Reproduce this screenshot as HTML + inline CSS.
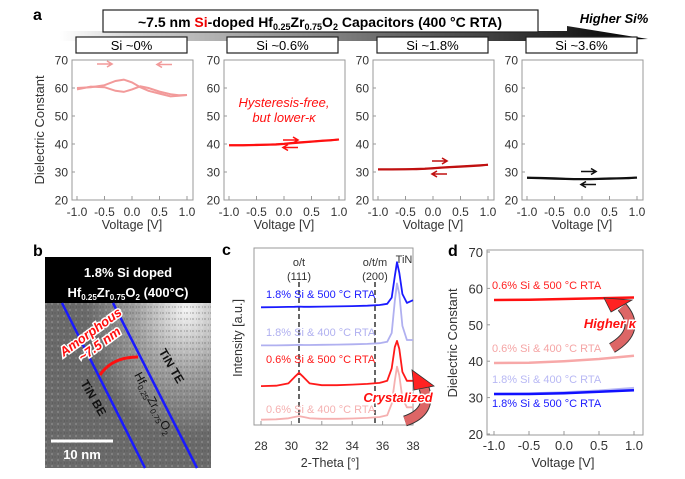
<!DOCTYPE html>
<html><head><meta charset="utf-8"><style>
html,body{margin:0;padding:0;background:#fff;}
svg{display:block;font-family:"Liberation Sans",Arial,sans-serif;}
</style></head><body>
<svg id="fig" width="685" height="479" viewBox="0 0 685 479" xmlns="http://www.w3.org/2000/svg">
<defs>
<linearGradient id="band" x1="0" x2="1" y1="0" y2="0"><stop offset="0" stop-color="#fff"/><stop offset="0.15" stop-color="#ccc"/><stop offset="1" stop-color="#000"/></linearGradient>
<linearGradient id="arrg" x1="0" x2="0" y1="1" y2="0" gradientUnits="objectBoundingBox"><stop offset="0" stop-color="#c88"/><stop offset="1" stop-color="#f00"/></linearGradient>
<radialGradient id="tem" cx="0.85" cy="0.25" r="0.6"><stop offset="0" stop-color="#f4f4f4"/><stop offset="0.5" stop-color="#a0a0a0"/><stop offset="1" stop-color="#6a6a6a"/></radialGradient>
<pattern id="noise" width="6" height="6" patternUnits="userSpaceOnUse"><rect width="6" height="6" fill="none"/><rect x="0" y="0" width="2" height="2" fill="#555" opacity="0.25"/><rect x="3" y="3" width="2" height="2" fill="#fff" opacity="0.15"/><rect x="4" y="0" width="1" height="2" fill="#333" opacity="0.2"/></pattern>
</defs>

<text x="33" y="20" font-size="16" font-weight="bold">a</text>
<polygon points="60,31 567,31 567,26 648,39 567,41 60,41" fill="url(#band)"/>
<text x="614" y="23" font-size="13" font-weight="bold" font-style="italic" text-anchor="middle">Higher Si%</text>
<rect x="103" y="10" width="435" height="22" fill="#fff" stroke="#222" stroke-width="1.2"/>
<text x="320" y="27" font-size="14" font-weight="bold" text-anchor="middle">~7.5 nm <tspan fill="#e00">Si</tspan>-doped Hf<tspan font-size="9" dy="3">0.25</tspan><tspan dy="-3">Zr</tspan><tspan font-size="9" dy="3">0.75</tspan><tspan dy="-3">O</tspan><tspan font-size="9" dy="3">2</tspan><tspan dy="-3">  Capacitors (400 °C RTA)</tspan></text>

<g id="pa"></g>
<g id="pb"></g>
<g id="pc"></g>
<g id="pd"></g>
</svg>
<script>
const NS='http://www.w3.org/2000/svg';
// ---- Panel a data ----
const aTitles=['Si ~0%','Si ~0.6%','Si ~1.8%','Si ~3.6%'];
const aColors=['#f29a9a','#ff1010','#c01010','#111111'];
const aYTicks=[20,30,40,50,60,70];
const aXTicks=[-1.0,-0.5,0.0,0.5,1.0];
const aFwdV=[-1,-0.75,-0.5,-0.3,-0.15,0,0.15,0.3,0.5,0.7,0.85,1];
const a0Fwd=[60,60.3,61,62.5,63,62,60.3,59,58,57,57.2,57.5];
const a0Bwd=[59.5,60.5,60.3,59,58.6,59.5,60.6,60,58.7,57.8,57.4,57.5];
const a1Fwd=[39.6,39.6,39.7,39.8,39.9,40.1,40.4,40.6,40.9,41.2,41.4,41.6];
const a1Bwd=[39.5,39.5,39.6,39.7,39.8,40.0,40.3,40.5,40.8,41.1,41.3,41.6];
const a2Fwd=[31,31,31,31.1,31.2,31.4,31.6,31.8,32,32.2,32.4,32.6];
const a2Bwd=[30.9,30.9,31,31,31.1,31.3,31.5,31.7,31.9,32.1,32.3,32.6];
const a3Fwd=[28,27.9,27.8,27.6,27.5,27.5,27.5,27.6,27.7,27.8,27.9,28];
const a3Bwd=[27.9,27.8,27.6,27.5,27.4,27.4,27.4,27.5,27.6,27.7,27.8,28];
const aFwd=[a0Fwd,a1Fwd,a2Fwd,a3Fwd];
const aBwd=[a0Bwd,a1Bwd,a2Bwd,a3Bwd];
// ---- Panel c data ----
const cTheta=[28,29,29.8,30.2,30.5,30.8,31.2,32,33,34,35,35.8,36.3,36.6,36.8,36.95,37.1,37.3,37.6,38];
const cBlue=[66.5,66.6,66.7,66.8,66.9,66.8,66.8,66.9,67,67.2,67.4,67.8,68.5,72,84,92,86,74,69,70.5];
const cLBlue=[45,45,45.1,45.2,45.3,45.2,45.2,45.3,45.4,45.6,45.8,46.2,47,52,70,80,74,56,48,48];
const cRed=[22,22.2,23.5,27,29.5,27,23.5,22.5,22.5,22.8,23.2,23.8,25,32,44,47.5,43,30,25,25];
const cPink=[3,3.2,3.8,4.5,5,4.5,3.8,3.5,3.5,3.7,4,4.5,5.5,12,25,33,28,15,10,10];
const cSeries=[cBlue,cLBlue,cRed,cPink];
const cColors=['#1a1aff','#b0b0f0','#ff1a1a','#f5b0b0'];
const cLabels=['1.8% Si & 500 °C RTA','1.8% Si & 400 °C RTA','0.6% Si & 500 °C RTA','0.6% Si & 400 °C RTA'];
const cLabelY=[298,336,363,413];
const cXTicks=[28,30,32,34,36,38];
// ---- Panel d data ----
const dV=[-1,-0.5,0,0.5,1];
const dRed5=[56.8,56.9,57.1,57.3,57.5];
const dPink4=[39.5,39.6,40,40.6,41.5];
const dLBlue4=[31,31.1,31.4,31.9,32.6];
const dBlue5=[31,31,31.2,31.6,32];
const dSeries=[dPink4,dLBlue4,dBlue5,dRed5];
const dColors=['#f7a8a8','#b8b8f4','#1010ff','#ff1010'];
const dLabels=['0.6% Si & 500 °C RTA','0.6% Si & 400 °C RTA','1.8% Si & 400 °C RTA','1.8% Si & 500 °C RTA'];
const dLabelColors=['#ff2020','#f5a5a5','#b8b8f4','#1a1aff'];
const dLabelY=[289,352,383,407];
const dYTicks=[20,30,40,50,60,70];

function mk(tag,attrs,parent,txt){const e=document.createElementNS(NS,tag);for(const k in attrs)e.setAttribute(k,attrs[k]);if(txt!==undefined)e.textContent=txt;parent.appendChild(e);return e;}
function pathFrom(xs,ys,fx,fy){return xs.map((x,i)=>(i?'L':'M')+fx(x).toFixed(1)+','+fy(ys[i]).toFixed(1)).join(' ');}
function arrowH(g,x1,x2,y,col){const p=mk('path',{d:`M${x1},${y} L${x2},${y} M${x2-(x2>x1?5:-5)},${y-3} L${x2},${y} L${x2-(x2>x1?5:-5)},${y+3}`,stroke:col,'stroke-width':1.6,fill:'none'},g);

}
function curvedArrow(g,body,head,name){
  const b=mk('path',{d:body,stroke:'#333','stroke-width':11,fill:'none','stroke-linecap':'butt'},g);
  const b2=mk('path',{d:body,stroke:'#d66','stroke-width':9,fill:'none','stroke-linecap':'butt'},g);
  const h=mk('polygon',{points:head,fill:'#f22',stroke:'#333','stroke-width':0.8},g);
  
  
}

// ---- Panel a ----
const pa=document.getElementById('pa');
const aLefts=[72,224,373,522];
const aBoxL=[76,227,377,526];
aLefts.forEach((L,k)=>{
  const g=mk('g',{},pa);
  
  
  const fx=v=>L+5+(v+1)*55, fy=v=>60+(70-v)*2.8;
  const tb=mk('rect',{x:aBoxL[k],y:37,width:111,height:16,fill:'#fff',stroke:'#222','stroke-width':1.2},g);
  
  
  const tt=mk('text',{x:aBoxL[k]+55.5,y:50,'font-size':13,'text-anchor':'middle'},g,aTitles[k]);
  
  
  const box=mk('rect',{x:L,y:60,width:121,height:140,fill:'none',stroke:'#999','stroke-width':1},g);
  
  
  aYTicks.forEach(t=>{
    const tl=mk('text',{x:L-4,y:fy(t)+4.5,'font-size':12,'text-anchor':'end',fill:'#333'},g,String(t));
    
    
    mk('line',{x1:L,x2:L+3,y1:fy(t),y2:fy(t),stroke:'#999'},g);
  });
  aXTicks.forEach(t=>{
    const tl=mk('text',{x:fx(t),y:216,'font-size':12,'text-anchor':'middle',fill:'#333'},g,t.toFixed(1));
    
    
    mk('line',{x1:fx(t),x2:fx(t),y1:200,y2:196,stroke:'#999'},g);
  });
  const xt=mk('text',{x:L+60,y:229,'font-size':12.5,'text-anchor':'middle',fill:'#333'},g,'Voltage [V]');
  
  
  const f=mk('path',{d:pathFrom(aFwdV,aFwd[k],fx,fy),stroke:aColors[k],'stroke-width':2,fill:'none'},g);
  
  
  const b=mk('path',{d:pathFrom(aFwdV,aBwd[k],fx,fy),stroke:aColors[k],'stroke-width':2,fill:'none'},g);
  
  
});
{const yt=mk('text',{x:0,y:0,'font-size':13,'text-anchor':'middle',fill:'#333',transform:'translate(44,130) rotate(-90)'},pa,'Dielectric Constant');

}
arrowH(pa,97,112,64,'#f29a9a');arrowH(pa,172,157,64.5,'#f29a9a');
arrowH(pa,283,298,140,'#ff1010');arrowH(pa,298,283,147.5,'#ff1010');
arrowH(pa,432,447,161,'#c01010');arrowH(pa,447,432,174,'#c01010');
arrowH(pa,581,596,171.5,'#111');arrowH(pa,596,581,184.5,'#111');
{const h=mk('text',{x:284,y:107,'font-size':13,'font-style':'italic','text-anchor':'middle',fill:'#ff1010'},pa);


mk('tspan',{x:284,dy:0},h,'Hysteresis-free,');mk('tspan',{x:284,dy:15},h,'but lower-κ');}

// ---- Panel b ----
const pb=document.getElementById('pb');
{
mk('text',{x:33,y:256,'font-size':16,'font-weight':'bold'},pb,'b');
const img=mk('rect',{x:45,y:257,width:166,height:211,fill:'url(#tem)'},pb);


mk('rect',{x:45,y:303,width:166,height:165,fill:'url(#noise)'},pb);
const hdr=mk('rect',{x:45,y:257,width:166,height:46,fill:'#000'},pb);


mk('text',{x:128,y:277,'font-size':13,'font-weight':'bold',fill:'#fff','text-anchor':'middle'},pb,'1.8% Si doped');
const t2=mk('text',{x:128,y:297,'font-size':13,'font-weight':'bold',fill:'#fff','text-anchor':'middle'},pb);
t2.innerHTML='Hf<tspan font-size="8" dy="3">0.25</tspan><tspan dy="-3">Zr</tspan><tspan font-size="8" dy="3">0.75</tspan><tspan dy="-3">O</tspan><tspan font-size="8" dy="3">2</tspan><tspan dy="-3"> (400°C)</tspan>';
mk('line',{x1:62,y1:303,x2:145,y2:468,stroke:'#1a1aff','stroke-width':2.5},pb);
mk('line',{x1:113,y1:303,x2:197,y2:468,stroke:'#1a1aff','stroke-width':2.5},pb);
mk('path',{d:'M100,375 Q112,357 138,357',stroke:'#ff1010','stroke-width':3,fill:'none'},pb);
const am=mk('text',{x:0,y:0,'font-size':13,'font-weight':'bold','font-style':'italic',fill:'#ff1010','text-anchor':'middle',transform:'translate(95,338) rotate(-36)',stroke:'#fff','stroke-width':3,'paint-order':'stroke'},pb);

mk('tspan',{x:0,dy:-3},am,'Amorphous');mk('tspan',{x:0,dy:15},am,'~7.5 nm');
mk('text',{x:0,y:0,'font-size':12,'font-weight':'bold',fill:'#111','text-anchor':'middle',transform:'translate(90,400) rotate(60)'},pb,'TiN BE');
mk('text',{x:0,y:0,'font-size':12,'font-weight':'bold',fill:'#111','text-anchor':'middle',transform:'translate(168,368) rotate(60)'},pb,'TiN TE');
const hz=mk('text',{x:0,y:0,'font-size':12,fill:'#111','text-anchor':'middle',transform:'translate(150,405) rotate(62)'},pb);
hz.innerHTML='Hf<tspan font-size="8" dy="3">0.25</tspan><tspan dy="-3">Zr</tspan><tspan font-size="8" dy="3">0.75</tspan><tspan dy="-3">O</tspan><tspan font-size="8" dy="3">2</tspan>';
mk('line',{x1:51,y1:441,x2:113,y2:441,stroke:'#fff','stroke-width':3},pb);
mk('text',{x:82,y:459,'font-size':13,'font-weight':'bold',fill:'#fff','text-anchor':'middle'},pb,'10 nm');
}

// ---- Panel c ----
const pc=document.getElementById('pc');
{
const fx=t=>261+(t-28)*15.2, fy=v=>425-v*1.77;
mk('text',{x:222,y:255,'font-size':16,'font-weight':'bold'},pc,'c');
const box=mk('rect',{x:254,y:248,width:159,height:177,fill:'none',stroke:'#999'},pc);


[30.5,35.5].forEach(t=>{const l=mk('line',{x1:fx(t),x2:fx(t),y1:282,y2:425,stroke:'#333','stroke-width':1.5,'stroke-dasharray':'5,3'},pc);

});
mk('text',{x:fx(30.5),y:266,'font-size':11,'text-anchor':'middle',fill:'#333'},pc,'o/t');
mk('text',{x:fx(30.5),y:280,'font-size':11,'text-anchor':'middle',fill:'#333'},pc,'(111)');
mk('text',{x:fx(35.5),y:266,'font-size':11,'text-anchor':'middle',fill:'#333'},pc,'o/t/m');
mk('text',{x:fx(35.5),y:280,'font-size':11,'text-anchor':'middle',fill:'#333'},pc,'(200)');
mk('text',{x:404,y:263,'font-size':11,'text-anchor':'middle',fill:'#333'},pc,'TiN');
[3,1,2,0].forEach(i=>{
  const p=mk('path',{d:pathFrom(cTheta,cSeries[i],fx,fy),stroke:cColors[i],'stroke-width':1.8,fill:'none','stroke-linejoin':'round'},pc);
  
  
});
cLabels.forEach((s,i)=>{const t=mk('text',{x:266,y:cLabelY[i],'font-size':11,fill:cColors[i]},pc,s);

});
cXTicks.forEach(t=>{mk('text',{x:fx(t),y:450,'font-size':12,'text-anchor':'middle',fill:'#333'},pc,String(t));
mk('line',{x1:fx(t),x2:fx(t),y1:425,y2:421,stroke:'#999'},pc);});
mk('text',{x:330,y:467,'font-size':12.5,'text-anchor':'middle',fill:'#333'},pc,'2-Theta [°]');
mk('text',{x:0,y:0,'font-size':12.5,'text-anchor':'middle',fill:'#333',transform:'translate(242,338) rotate(-90)'},pc,'Intensity [a.u.]');
curvedArrow(pc,'M405,421 Q432,412 424,388','414,390 434,386 412,370','crystalized-arrow');
mk('text',{x:398,y:402,'font-size':13,'font-weight':'bold','font-style':'italic',fill:'#ff1010','text-anchor':'middle',stroke:'#fff','stroke-width':3,'paint-order':'stroke'},pc,'Crystalized');
}

// ---- Panel d ----
const pd=document.getElementById('pd');
{
const fx=v=>564+v*70, fy=v=>252+(70-v)*3.64;
mk('text',{x:448,y:256,'font-size':16,'font-weight':'bold'},pd,'d');
const box=mk('rect',{x:487,y:250,width:156,height:185,fill:'none',stroke:'#999'},pd);


dYTicks.forEach(t=>{mk('text',{x:483,y:fy(t)+5,'font-size':13,'text-anchor':'end',fill:'#333'},pd,String(t));
mk('line',{x1:487,x2:490,y1:fy(t),y2:fy(t),stroke:'#999'},pd);});
aXTicks.forEach(t=>{mk('text',{x:fx(t),y:450,'font-size':13,'text-anchor':'middle',fill:'#333'},pd,t.toFixed(1));
mk('line',{x1:fx(t),x2:fx(t),y1:435,y2:431,stroke:'#999'},pd);});
mk('text',{x:563,y:467,'font-size':13,'text-anchor':'middle',fill:'#333'},pd,'Voltage [V]');
mk('text',{x:0,y:0,'font-size':13,'text-anchor':'middle',fill:'#333',transform:'translate(457,343) rotate(-90)'},pd,'Dielectric Constant');
dSeries.forEach((s,i)=>{const p=mk('path',{d:pathFrom(dV,s,fx,fy),stroke:dColors[i],'stroke-width':2.5,fill:'none'},pd);

});
dLabels.forEach((s,i)=>{const t=mk('text',{x:492,y:dLabelY[i],'font-size':11,fill:dLabelColors[i]},pd,s);

});
curvedArrow(pd,'M612,348 Q642,330 622,307','611,312 632,300 604,298','higher-k-arrow');
mk('text',{x:610,y:328,'font-size':13,'font-weight':'bold','font-style':'italic',fill:'#ff1010','text-anchor':'middle',stroke:'#fff','stroke-width':3,'paint-order':'stroke'},pd,'Higher κ');
}
</script>
</body></html>
